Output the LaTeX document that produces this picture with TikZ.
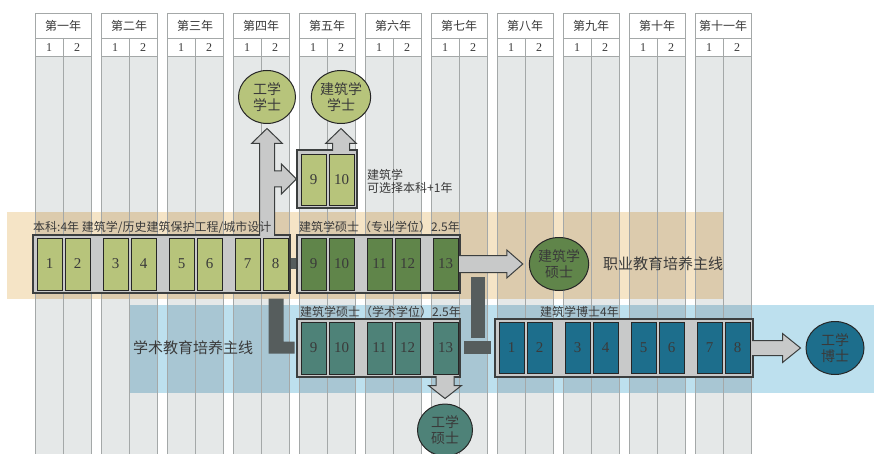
\documentclass[tikz,border=0pt]{standalone}
\usepackage{fontspec}
\setmainfont{Liberation Serif}
\newfontfamily\cjk{Noto Sans CJK SC}
\usetikzlibrary{shapes.geometric,calc}
\definecolor{colgray}{HTML}{E5E8E8}
\definecolor{colline}{HTML}{A4A8A8}
\definecolor{tanband}{HTML}{F5E4C6}
\definecolor{tandark}{HTML}{DCCBAD}
\definecolor{blueband}{HTML}{BDE0EE}
\definecolor{bluedark}{HTML}{A8C6D3}
\definecolor{boxgray}{HTML}{C8C9C9}
\definecolor{boxline}{HTML}{3C3F3F}
\definecolor{linkgray}{HTML}{565D5D}
\definecolor{lightolive}{HTML}{B7C47B}
\definecolor{profgreen}{HTML}{60854A}
\definecolor{acadteal}{HTML}{4E8278}
\definecolor{docblue}{HTML}{1D6E8C}
\definecolor{txtgray}{HTML}{3A3A3A}
\begin{document}
\begin{tikzpicture}
  [x=1pt,y=-1pt,every node/.style={text=txtgray,inner sep=0pt}]
  \tikzstyle{cell} = [draw=black!85,line width=1pt,minimum width=25pt,minimum height=52pt,font=\fontsize{15}{15}\selectfont]
  \tikzstyle{box} = [draw=boxline,line width=1.3pt,fill=boxgray,minimum height=58pt]
  \tikzstyle{degnode} = [ellipse,draw=black!85,line width=1pt,minimum width=57pt,minimum height=53pt,align=center,font=\cjk\fontsize{14}{16}\selectfont]
  \tikzstyle{fat} = [fill=boxgray,draw=boxline,line width=1pt]
  \tikzstyle{linkbar} = [fill=linkgray]
  \tikzstyle{caption} = [anchor=west,font=\cjk\fontsize{12}{14}\selectfont]
  \tikzstyle{mainline} = [anchor=west,font=\cjk\fontsize{15}{18}\selectfont]
  \tikzstyle{colrule} = [draw=colline,line width=.7pt]

  \useasboundingbox[fill=white] (0,0) rectangle (874,454);
  \fill[tanband] (7,212) rectangle (723,299);
  \fill[blueband] (129,305) rectangle (874,393);
  \foreach \y in {0,...,10}
    \fill[colgray] (35+66*\y,56) rectangle (91+66*\y,454);
  \begin{scope}
    \clip \foreach \y in {0,...,10} {(35+66*\y,56) rectangle (91+66*\y,454)};
    \fill[tandark] (7,212) rectangle (723,299);
    \fill[bluedark] (129,305) rectangle (874,393);
  \end{scope}

  \foreach \y/\name in {1/第一年,2/第二年,3/第三年,4/第四年,5/第五年,6/第六年,7/第七年,8/第八年,9/第九年,10/第十年,11/第十一年} {
    \pgfmathsetmacro\l{35+66*(\y-1)}
    \draw[colrule,fill=white] (\l,13) rectangle ++(56,25) (\l,38) rectangle ++(56,18);
    \draw[colrule] (\l,56) -- (\l,454) (\l+28,38) -- (\l+28,454) (\l+56,56) -- (\l+56,454);
    \node[font=\cjk\fontsize{12}{12}\selectfont] (yr\y) at (\l+28,25.5) {\name};
    \node[font=\fontsize{12}{12}\selectfont] (yr\y-1) at (\l+14,47.5) {1};
    \node[font=\fontsize{12}{12}\selectfont] (yr\y-2) at (\l+42,47.5) {2};
  }

  \node[box,minimum width=257pt] (bach) at (161.5,264) {};
  \node[box,minimum width=163pt] (prof) at (378.5,264) {};
  \node[box,minimum width=163pt] (acad) at (378.5,348) {};
  \node[box,minimum width=60pt] (opt) at (327,179) {};
  \node[box,minimum width=258pt] (doct) at (624,348) {};

  \fill[linkbar] ($(bach.east)+(0,-6.5)$) rectangle ($(prof.west)+(0,5)$);
  \fill[linkbar] ($(bach.south east)+(-22,5)$) -- ++(15,0) -- ++(0,43) -- ++(11,0) -- ++(0,12) -- ++(-26,0) -- cycle;
  \fill[linkbar] ($(prof.east)+(10.5,13)$) rectangle ($(prof.east)+(24.5,74)$);
  \fill[linkbar] ($(acad.east)+(3.5,-7)$) rectangle ($(doct.west)+(-3,6)$);

  \foreach \n/\x in {1/49.5,2/77.5,3/115.5,4/143.5,5/181.5,6/209.5,7/247.5,8/275.5}
    \node[cell,fill=lightolive] (b\n) at (\x,264) {\n};
  \foreach \n/\x in {9/313.5,10/341.5,11/379.5,12/407.5,13/445.5} {
    \node[cell,fill=profgreen] (p\n) at (\x,264) {\n};
    \node[cell,fill=acadteal] (a\n) at (\x,348) {\n};
  }
  \foreach \n/\x in {9/313.5,10/341.5}
    \node[cell,fill=lightolive,minimum height=51pt] (o\n) at (\x,180) {\n};
  \foreach \n/\x in {1/511.5,2/539.5,3/577.5,4/605.5,5/643.5,6/671.5,7/709.5,8/737.5}
    \node[cell,fill=docblue,minimum height=51pt] (d\n) at (\x,348) {\n};

  \node[degnode,fill=lightolive] (bsE) at (267,97) {工学\\学士};
  \node[degnode,fill=lightolive] (bsA) at (341,97) {建筑学\\学士};
  \node[degnode,fill=profgreen] (msP) at (559,264) {建筑学\\硕士};
  \node[degnode,fill=acadteal,minimum width=55pt,minimum height=52pt] (msE) at (445,430) {工学\\硕士};
  \node[degnode,fill=docblue,minimum width=58pt] (phd) at (835,348) {工学\\博士};

  \coordinate (up1) at (bsE.south |- bach.north);
  \coordinate (tip1) at ($(bsE.south)+(0,4.5)$);
  \coordinate (tip2) at (opt.west);
  \draw[fat] ($(up1)+(-7.5,1.5)$) -- ($(tip1)+(-7.5,15)$) -- ($(tip1)+(-15.5,15)$) -- (tip1) -- ($(tip1)+(15.5,15)$) -- ($(tip1)+(7.5,15)$)
    -- ($(up1|-tip2)+(7.5,-8)$) -- ($(tip2)+(-15,-8)$) -- ($(tip2)+(-15,-15)$) -- (tip2) -- ($(tip2)+(-15,15)$) -- ($(tip2)+(-15,8)$)
    -- ($(up1|-tip2)+(7.5,8)$) -- ($(up1)+(7.5,1.5)$);
  \coordinate (up2) at (bsA.south |- opt.north);
  \coordinate (tip3) at ($(bsA.south)+(0,4.5)$);
  \draw[fat] ($(up2)+(-8.5,1.5)$) -- ($(tip3)+(-8.5,15)$) -- ($(tip3)+(-15.5,15)$) -- (tip3) -- ($(tip3)+(15.5,15)$) -- ($(tip3)+(8.5,15)$) -- ($(up2)+(8.5,1.5)$);
  \coordinate (tip4) at ($(msP.west)+(-6,0)$);
  \draw[fat] ($(prof.east)+(-1.5,-8.5)$) -- ($(tip4)+(-16,-8.5)$) -- ($(tip4)+(-16,-14)$) -- (tip4) -- ($(tip4)+(-16,14)$) -- ($(tip4)+(-16,8.5)$) -- ($(prof.east)+(-1.5,8.5)$);
  \coordinate (tip5) at ($(phd.west)+(-5,0)$);
  \draw[fat] ($(doct.east)+(-1.5,-7.5)$) -- ($(tip5)+(-18,-7.5)$) -- ($(tip5)+(-18,-14.5)$) -- (tip5) -- ($(tip5)+(-18,14.5)$) -- ($(tip5)+(-18,7.5)$) -- ($(doct.east)+(-1.5,7.5)$);
  \coordinate (dn1) at (msE.north |- acad.south);
  \coordinate (tip6) at ($(msE.north)+(0,-5)$);
  \draw[fat] ($(dn1)+(-9,-1.5)$) -- ($(tip6)+(-9,-13)$) -- ($(tip6)+(-16.5,-13)$) -- (tip6) -- ($(tip6)+(16.5,-13)$) -- ($(tip6)+(9,-13)$) -- ($(dn1)+(9,-1.5)$);

  \node[caption] (lbach) at (33,227) {本科:4年\ 建筑学/历史建筑保护工程/城市设计};
  \node[caption] (lprof) at (299,227) {建筑学硕士（专业学位）2.5年};
  \node[caption] (lacad) at (300,312) {建筑学硕士（学术学位）2.5年};
  \node[caption] (ldoct) at (540,312) {建筑学博士4年};
  \node[caption,anchor=north west,align=left,font=\cjk\fontsize{12}{13}\selectfont] (lopt) at (367,169) {建筑学\\可选择本科+1年};
  \node[mainline] (lineP) at (603,264) {职业教育培养主线};
  \node[mainline] (lineA) at (133,348) {学术教育培养主线};
\end{tikzpicture}
\end{document}
